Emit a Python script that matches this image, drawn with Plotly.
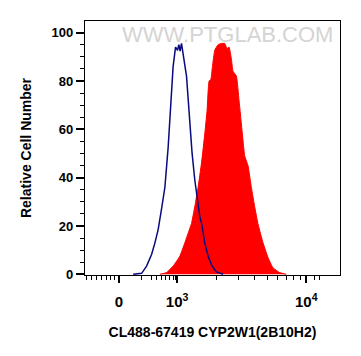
import plotly.graph_objects as go

# ---- data ----
control_intensity = [457, 531, 580, 634, 673, 713, 757, 804, 852, 893, 931, 972, 1007, 1031, 1055, 1081,
                     1113, 1147, 1182, 1217, 1254, 1306, 1370, 1428, 1497, 1560, 1636, 1737, 1864, 2015, 2268]
control_count = [0, 0.4, 3.4, 8.2, 13, 18.5, 27, 36, 52.5, 68, 86, 94, 92.7, 95, 92.3, 95.5,
                 90, 86.5, 82, 72, 61, 50, 39, 32, 24, 20, 13, 7.5, 3.4, 1, 0]

sample_intensity = [735, 828, 931, 1049, 1147, 1217, 1291, 1370, 1453, 1544, 1636, 1707, 1768, 1822, 1877,
                    1956, 2074, 2203, 2337, 2434, 2523, 2633, 2709, 2877, 3015, 3201, 3334, 3536, 3755,
                    3985, 4221, 4627, 5049, 5518, 6220, 7004]
sample_count = [0, 0.7, 3.4, 7.5, 13, 17, 21, 28, 36, 46, 58, 68, 80, 80.5, 86,
                92.7, 95, 95.5, 95.5, 93.4, 94, 89, 84, 82, 72, 58, 49, 45, 36,
                28, 21, 13, 7, 2.7, 0.7, 0]

x_tick_values = [354, 1000, 10000]
x_tick_labels = ["0", "10<sup>3</sup>", "10<sup>4</sup>"]
x_minor_ticks = [200, 218, 238, 260, 285, 307, 330, 361, 531, 634, 693, 757, 818, 879, 931, 977,
                 2000, 3000, 4000, 5000, 6000, 7000, 8000, 9000, 11600, 12700]
y_tick_values = [0, 20, 40, 60, 80, 100]

x_title = "CL488-67419 CYP2W1(2B10H2)"
y_title = "Relative Cell Number"
watermark = "WWW.PTGLAB.COM"

FONT = "Arial, Liberation Sans, sans-serif"

fig = go.Figure()
fig.add_trace(go.Scatter(
    x=sample_intensity, y=sample_count, mode="lines",
    line=dict(color="#ff0000", width=1, shape="spline", smoothing=0.4),
    fill="tozeroy", fillcolor="#ff0000", hoverinfo="skip", showlegend=False))
fig.add_trace(go.Scatter(
    x=control_intensity, y=control_count, mode="lines",
    line=dict(color="#0a0a80", width=1.5), hoverinfo="skip", showlegend=False))

fig.update_layout(
    width=361, height=356,
    margin=dict(l=77, r=28.5, t=12.7, b=89, autoexpand=False),
    paper_bgcolor="white", plot_bgcolor="white",
    font=dict(family=FONT, color="black"),
    annotations=[dict(
        text=watermark, xref="paper", yref="paper", x=0.56, y=0.948,
        xanchor="center", yanchor="middle", showarrow=False,
        font=dict(family=FONT, size=22, color="#d4d4d4"))],
)

fig.update_xaxes(
    type="log", range=[2.2867, 4.261],
    tickmode="array", tickvals=x_tick_values, ticktext=x_tick_labels,
    ticks="outside", ticklen=7, tickwidth=1.5, tickcolor="black",
    ticklabelstandoff=6,
    tickfont=dict(family=FONT, size=15, weight="bold"),
    minor=dict(tickmode="array", tickvals=x_minor_ticks, ticks="outside", ticklen=4,
               tickwidth=1, tickcolor="black", showgrid=False),
    showline=True, linecolor="black", linewidth=1.2, mirror=True,
    showgrid=False, zeroline=False,
    title=dict(text=x_title, font=dict(family=FONT, size=14, weight="bold"), standoff=18),
    automargin=False,
)
fig.update_yaxes(
    range=[-0.3, 104.8],
    tickmode="array", tickvals=y_tick_values,
    ticks="outside", ticklen=8, tickwidth=1.5, tickcolor="black",
    tickfont=dict(family=FONT, size=13, weight="bold"),
    minor=dict(dtick=5, ticks="outside", ticklen=4, tickwidth=1, tickcolor="black", showgrid=False),
    showline=True, linecolor="black", linewidth=1.2, mirror=True,
    showgrid=False, zeroline=False,
    title=dict(text=y_title, font=dict(family=FONT, size=14, weight="bold"), standoff=16),
    automargin=False,
)

fig.write_html("out.html")
